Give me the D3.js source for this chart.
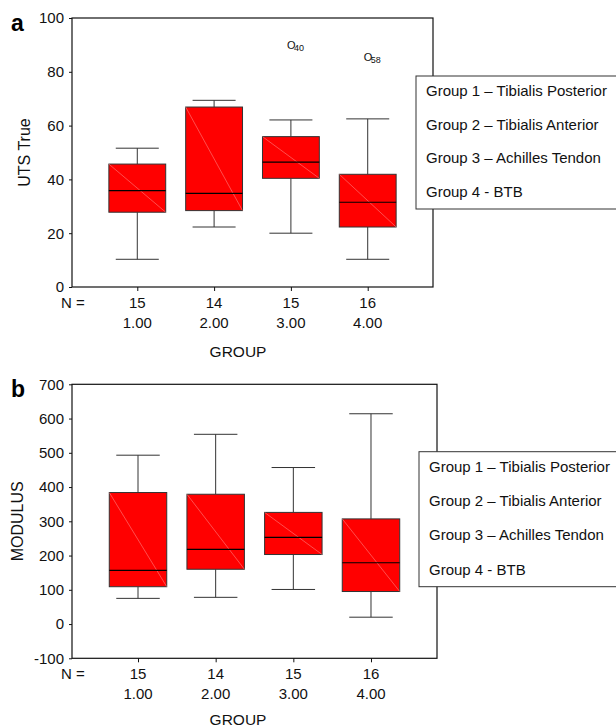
<!DOCTYPE html>
<html>
<head>
<meta charset="utf-8">
<script src="https://cdn.jsdelivr.net/npm/d3@7"></script>
<style>
  body { margin: 0; background: #fff; }
  svg { display: block; font-family: "Liberation Sans", Arial, sans-serif; }
</style>
</head>
<body>
<svg id="chart" width="616" height="727"></svg>
<script>
// categories
const groups = ['1.00', '2.00', '3.00', '4.00'];
const counts = [15, 14, 15, 16];
const legendLabels = [
  'Group 1 \u2013 Tibialis Posterior',
  'Group 2 \u2013 Tibialis Anterior',
  'Group 3 \u2013 Achilles Tendon',
  'Group 4 - BTB'
];

// panel a: UTS True
const utsTicks = [0, 20, 40, 60, 80, 100];
const utsLow = [10.3, 22.3, 20.0, 10.3];
const utsQ1 = [27.8, 28.4, 40.4, 22.3];
const utsMedian = [35.8, 34.8, 46.4, 31.5];
const utsQ3 = [45.7, 66.9, 55.9, 41.9];
const utsHigh = [51.6, 69.4, 62.1, 62.5];
const utsOutGroup = ['3.00', '4.00'];
const utsOutValue = [89.8, 85.4];
const utsOutCase = ['40', '58'];

// panel b: MODULUS
const modTicks = [-100, 0, 100, 200, 300, 400, 500, 600, 700];
const modLow = [75, 78, 101, 20];
const modQ1 = [109, 160, 203, 95];
const modMedian = [157, 218, 253, 179];
const modQ3 = [384, 379, 326, 307];
const modHigh = [493, 554, 457, 614];

const svg = d3.select('#chart');

function drawPanel(cfg) {
  const g = svg.append('g');
  const x = d3.scalePoint().domain(groups).range([cfg.left, cfg.right]).padding(0.85);
  const y = d3.scaleLinear().domain(cfg.domain).range([cfg.bottom, cfg.top]);
  const step = x.step();
  const boxW = step * 0.74;
  const capW = step * 0.56;

  // frame
  g.append('rect')
    .attr('x', cfg.left).attr('y', cfg.top)
    .attr('width', cfg.right - cfg.left).attr('height', cfg.bottom - cfg.top)
    .attr('fill', 'none').attr('stroke', '#111').attr('stroke-width', 1.2);

  // y axis (plain hyphen for negatives, like the original)
  const yAxis = g.append('g')
    .attr('transform', `translate(${cfg.left},0)`)
    .call(d3.axisLeft(y).tickValues(cfg.ticks).tickSize(3).tickPadding(5).tickFormat(d => String(d)));
  yAxis.select('.domain').remove();
  yAxis.selectAll('text').attr('font-size', 15).attr('fill', '#111').attr('font-family', null);
  yAxis.selectAll('line').attr('stroke', '#111');

  // x axis ticks
  const xAxis = g.append('g')
    .attr('transform', `translate(0,${cfg.bottom})`)
    .call(d3.axisBottom(x).tickSize(4).tickFormat(''));
  xAxis.select('.domain').remove();
  xAxis.selectAll('line').attr('stroke', '#111');

  // N row and group labels
  g.append('text').attr('x', 73).attr('y', cfg.bottom + 21)
    .attr('text-anchor', 'middle').attr('font-size', 15).attr('fill', '#111').text('N =');
  g.selectAll('.cnt').data(groups).join('text')
    .attr('x', d => x(d)).attr('y', cfg.bottom + 21)
    .attr('text-anchor', 'middle').attr('font-size', 15).attr('fill', '#111')
    .text((d, i) => counts[i]);
  g.selectAll('.grp').data(groups).join('text')
    .attr('x', d => x(d)).attr('y', cfg.bottom + 41)
    .attr('text-anchor', 'middle').attr('font-size', 15).attr('fill', '#111')
    .text(d => d);
  g.append('text').attr('x', 238).attr('y', cfg.bottom + cfg.titleOffset)
    .attr('text-anchor', 'middle').attr('font-size', 15.5).attr('fill', '#111').text('GROUP');

  // y title
  g.append('text')
    .attr('transform', `translate(${cfg.titleX},${(cfg.top + cfg.bottom) / 2}) rotate(-90)`)
    .attr('text-anchor', 'middle').attr('font-size', 16).attr('fill', '#111').text(cfg.yTitle);

  // panel letter
  g.append('text').attr('x', 11).attr('y', cfg.top + 13)
    .attr('font-size', 23).attr('font-weight', 'bold').attr('fill', '#000').text(cfg.letter);

  // boxes
  groups.forEach((grp, i) => {
    const cx = x(grp);
    const bg = g.append('g');
    bg.append('line').attr('x1', cx).attr('x2', cx)
      .attr('y1', y(cfg.high[i])).attr('y2', y(cfg.q3[i]))
      .attr('stroke', '#333').attr('stroke-width', 1);
    bg.append('line').attr('x1', cx).attr('x2', cx)
      .attr('y1', y(cfg.q1[i])).attr('y2', y(cfg.low[i]))
      .attr('stroke', '#333').attr('stroke-width', 1);
    [cfg.high[i], cfg.low[i]].forEach(v => {
      bg.append('line').attr('x1', cx - capW / 2).attr('x2', cx + capW / 2)
        .attr('y1', y(v)).attr('y2', y(v))
        .attr('stroke', '#333').attr('stroke-width', 1);
    });
    bg.append('rect')
      .attr('x', cx - boxW / 2).attr('y', y(cfg.q3[i]))
      .attr('width', boxW).attr('height', y(cfg.q1[i]) - y(cfg.q3[i]))
      .attr('fill', '#ff0000').attr('stroke', '#333').attr('stroke-width', 1);
    bg.append('line')
      .attr('x1', cx - boxW / 2).attr('y1', y(cfg.q3[i]))
      .attr('x2', cx + boxW / 2).attr('y2', y(cfg.q1[i]))
      .attr('stroke', '#ff9a9a').attr('stroke-width', 0.5);
    bg.append('line').attr('x1', cx - boxW / 2).attr('x2', cx + boxW / 2)
      .attr('y1', y(cfg.median[i])).attr('y2', y(cfg.median[i]))
      .attr('stroke', '#000').attr('stroke-width', 1.2);
  });

  // outliers
  (cfg.outGroup || []).forEach((grp, i) => {
    const t = g.append('text')
      .attr('x', x(grp) - 4).attr('y', y(cfg.outValue[i]) + 4)
      .attr('font-size', 11).attr('fill', '#111');
    t.append('tspan').text('O');
    t.append('tspan').attr('dy', 2).attr('dx', -1.5).attr('font-size', 9).text(cfg.outCase[i]);
  });

  // legend
  const lg = g.append('g');
  lg.append('rect')
    .attr('x', cfg.legend.x).attr('y', cfg.legend.y)
    .attr('width', 230).attr('height', cfg.legend.h)
    .attr('fill', '#fff').attr('stroke', '#333').attr('stroke-width', 1);
  legendLabels.forEach((lab, i) => {
    lg.append('text')
      .attr('x', cfg.legend.x + 10)
      .attr('y', cfg.legend.y + 20 + i * cfg.legend.row)
      .attr('font-size', 15).attr('fill', '#111').text(lab);
  });
}

drawPanel({
  letter: 'a', yTitle: 'UTS True', titleX: 30,
  left: 72, right: 433, top: 18, bottom: 287, titleOffset: 70,
  domain: [0, 100], ticks: utsTicks,
  low: utsLow, q1: utsQ1, median: utsMedian, q3: utsQ3, high: utsHigh,
  outGroup: utsOutGroup, outValue: utsOutValue, outCase: utsOutCase,
  legend: { x: 416, y: 76, h: 133, row: 33.7 }
});

drawPanel({
  letter: 'b', yTitle: 'MODULUS', titleX: 23,
  left: 72, right: 437, top: 384.3, bottom: 658.3, titleOffset: 67,
  domain: [-100, 700], ticks: modTicks,
  low: modLow, q1: modQ1, median: modMedian, q3: modQ3, high: modHigh,
  legend: { x: 419, y: 451.7, h: 135, row: 34.3 }
});
</script>
</body>
</html>
